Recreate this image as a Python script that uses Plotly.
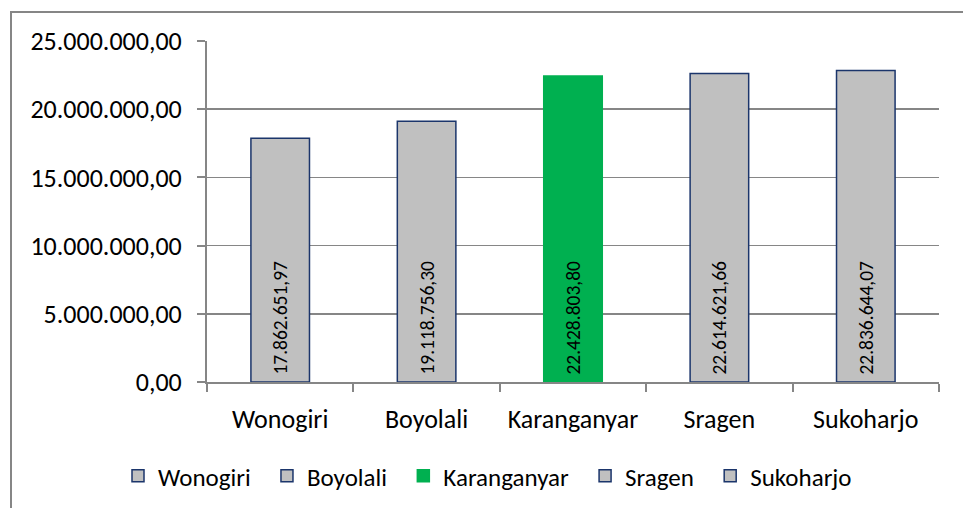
import plotly.graph_objects as go

categories = ["Wonogiri", "Boyolali", "Karanganyar", "Sragen", "Sukoharjo"]
values = [17862651.97, 19118756.30, 22428803.80, 22614621.66, 22836644.07]
value_labels = ["17.862.651,97", "19.118.756,30", "22.428.803,80", "22.614.621,66", "22.836.644,07"]
fill_colors = ["#C0C0C0", "#C0C0C0", "#00B050", "#C0C0C0", "#C0C0C0"]
line_colors = ["#1B356B", "#1B356B", "#00B050", "#1B356B", "#1B356B"]
y_ticks = [0, 5000000, 10000000, 15000000, 20000000, 25000000]
y_tick_labels = ["0,00", "5.000.000,00", "10.000.000,00", "15.000.000,00", "20.000.000,00", "25.000.000,00"]

FONT = "Calibri, Carlito, Lato, sans-serif"

fig = go.Figure()
n = len(categories)
for i, (cat, val, lab, fc, lc) in enumerate(zip(categories, values, value_labels, fill_colors, line_colors)):
    legend_name = cat + ("\u00a0\u00a0" if i < n - 1 else "")
    fig.add_trace(go.Bar(
        x=[cat], y=[val], name=legend_name, width=0.4,
        marker=dict(color=fc, line=dict(color=lc, width=1.5)),
        text=["\u00a0" + lab], textposition="inside", insidetextanchor="start",
        textangle=-90, textfont=dict(family=FONT, size=19.5, color="black"),
        cliponaxis=False, hoverinfo="skip",
    ))

W, H = 963, 508
L, R, T, B = 207, 24, 41, 126
pw, ph = W - L - R, H - T - B

def px_x(p):
    return (p - L) / pw

def px_y(p):
    return (H - B - p) / ph

fig.update_layout(
    width=W, height=H,
    margin=dict(l=L, r=R, t=T, b=B, autoexpand=False),
    paper_bgcolor="white", plot_bgcolor="white",
    barmode="overlay",
    font=dict(family=FONT, color="black"),
    uniformtext=dict(minsize=19.5, mode="show"),
    showlegend=True,
    legend=dict(
        orientation="h",
        x=px_x(118), xanchor="left", y=px_y(476), yanchor="middle",
        font=dict(family=FONT, size=25, color="black"),
        itemclick=False, traceorder="normal",
    ),
    xaxis=dict(
        categoryorder="array", categoryarray=categories,
        showline=True, linecolor="#868686", linewidth=2,
        ticks="outside", tickson="boundaries", ticklen=8, tickcolor="#868686", tickwidth=2,
        tickfont=dict(family=FONT, size=26, color="black"),
        ticklabelstandoff=13,
        showgrid=False,
    ),
    yaxis=dict(
        range=[0, 25000000], tickvals=y_ticks, ticktext=y_tick_labels,
        showline=True, linecolor="#868686", linewidth=2,
        ticks="outside", ticklen=8, tickcolor="#868686", tickwidth=2,
        showgrid=True, gridcolor="#868686", gridwidth=1.5,
        tickfont=dict(family=FONT, size=26, color="black"),
        ticklabelstandoff=10,
    ),
    shapes=[dict(
        type="rect", xref="paper", yref="paper",
        x0=px_x(11), x1=px_x(1100), y0=px_y(700), y1=px_y(12),
        line=dict(color="#868686", width=2), fillcolor="rgba(0,0,0,0)", layer="below",
    )],
)

fig.write_html(
    "out.html",
    config={"displayModeBar": False, "staticPlot": True},
    post_script="document.body.style.margin='0';document.body.style.overflow='hidden';",
)
